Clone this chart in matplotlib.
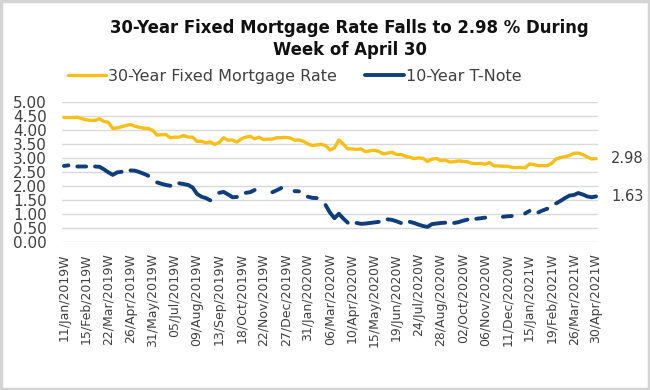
'''
    30-Year fixed mortgage rate vs 10-Year T-Note, weekly (Jan 2019 - Apr 2021)
'''

import numpy as np
import matplotlib.pyplot as plt
from matplotlib.patches import Rectangle


'''
    Data (read off the reference chart)
'''

# Tick labels, one every 5 weeks
tick_labels = [
    "11/Jan/2019W", "15/Feb/2019W", "22/Mar/2019W", "26/Apr/2019W", "31/May/2019W",
    "05/Jul/2019W", "09/Aug/2019W", "13/Sep/2019W", "18/Oct/2019W", "22/Nov/2019W",
    "27/Dec/2019W", "31/Jan/2020W", "06/Mar/2020W", "10/Apr/2020W", "15/May/2020W",
    "19/Jun/2020W", "24/Jul/2020W", "28/Aug/2020W", "02/Oct/2020W", "06/Nov/2020W",
    "11/Dec/2020W", "15/Jan/2021W", "19/Feb/2021W", "26/Mar/2021W", "30/Apr/2021W",
]
tick_step = 5

# 30-Year fixed mortgage rate, weekly
mortgage_rate = [
    4.45, 4.45, 4.45, 4.46, 4.41, 4.37, 4.35, 4.35, 4.41, 4.31,
    4.28, 4.06, 4.08, 4.12, 4.17, 4.20, 4.14, 4.10, 4.07, 4.06,
    3.99, 3.82, 3.84, 3.84, 3.73, 3.75, 3.75, 3.81, 3.75, 3.75,
    3.60, 3.60, 3.55, 3.58, 3.49, 3.56, 3.73, 3.64, 3.65, 3.57,
    3.69, 3.75, 3.78, 3.69, 3.75, 3.66, 3.68, 3.68, 3.73, 3.73,
    3.74, 3.72, 3.64, 3.65, 3.60, 3.51, 3.45, 3.47, 3.49, 3.45,
    3.29, 3.36, 3.65, 3.50, 3.33, 3.33, 3.31, 3.33, 3.23, 3.26,
    3.28, 3.24, 3.15, 3.18, 3.21, 3.13, 3.13, 3.07, 3.03, 2.98,
    3.01, 2.99, 2.88, 2.96, 2.99, 2.91, 2.93, 2.86, 2.87, 2.90,
    2.88, 2.87, 2.81, 2.80, 2.81, 2.78, 2.84, 2.72, 2.72, 2.71,
    2.71, 2.67, 2.66, 2.67, 2.65, 2.79, 2.77, 2.73, 2.73, 2.73,
    2.81, 2.97, 3.02, 3.05, 3.09, 3.17, 3.18, 3.13, 3.04, 2.97,
    2.98,
]

# 10-Year T-Note, weekly (nan = missing week, shows as a gap)
nan = np.nan
tnote_rate = [
    2.72, 2.74, nan,  2.70, 2.70, 2.70, nan,  2.70, 2.69, 2.60,
    2.49, 2.40, 2.49, 2.51, nan,  2.56, 2.55, 2.50, 2.44, 2.37,
    nan,  2.13, 2.08, 2.04, 2.01, nan,  2.10, 2.07, 2.04, 1.95,
    1.72, 1.62, 1.57, 1.49, nan,  1.76, 1.79, 1.70, 1.60, 1.61,
    nan,  1.76, 1.78, 1.86, nan,  nan,  nan,  1.78, 1.85, 1.93,
    nan,  nan,  1.82, 1.81, nan,  1.62, 1.58, 1.57, nan,  1.32,
    1.05, 0.85, 1.01, 0.84, 0.69, nan,  0.68, 0.65, 0.66, 0.68,
    0.70, 0.72, nan,  0.81, 0.79, 0.74, 0.68, nan,  0.72, 0.68,
    0.62, 0.57, 0.54, 0.64, 0.66, 0.68, 0.69, nan,  0.68, 0.71,
    0.76, 0.80, nan,  0.83, 0.85, 0.87, nan,  nan,  nan,  0.90,
    0.92, 0.93, nan,  nan,  1.02, 1.11, nan,  1.06, 1.13, 1.19,
    nan,  1.38, 1.47, 1.57, 1.66, 1.68, 1.75, 1.70, 1.63, 1.60,
    1.63,
]

mortgage_name = "30-Year Fixed Mortgage Rate"
tnote_name = "10-Year T-Note"
title_text = "30-Year Fixed Mortgage Rate Falls to 2.98 % During\nWeek of April 30"


'''
    Plot
'''

yellow = '#F9BF17'
navy = '#0E3F7C'
grey_txt = '#404040'

weeks = np.arange(len(mortgage_rate))

fig = plt.figure(figsize=(6.5, 3.9), dpi=100)
ax = fig.add_axes([0.0954, 0.3795, 0.8246, 0.3585])

ax.plot(weeks, mortgage_rate, color=yellow, lw=2.4, solid_capstyle='round',
        solid_joinstyle='round', label=mortgage_name)
ax.plot(weeks, tnote_rate, color=navy, lw=2.8, solid_capstyle='round',
        solid_joinstyle='round', label=tnote_name)

# Axes limits / grid
ax.set_xlim(-0.45, len(weeks) - 1 + 0.45)
ax.set_ylim(0, 5)
ax.set_yticks(np.arange(0, 5.01, 0.5))
ax.set_yticklabels([f"{v:.2f}" for v in np.arange(0, 5.01, 0.5)])
ax.grid(axis='y', color='#d9d9d9', lw=1.0)
ax.set_axisbelow(True)
for s in ax.spines.values():
    s.set_visible(False)

ax.set_xticks(weeks[::tick_step])
ax.set_xticklabels(tick_labels, rotation=90, va='top', ha='center')
ax.tick_params(axis='both', length=0, labelcolor=grey_txt)
ax.tick_params(axis='x', pad=8, labelsize=9)
ax.tick_params(axis='y', pad=11, labelsize=11)

# Last value labels
for series in (mortgage_rate, tnote_rate):
    ax.annotate(f"{series[-1]:.2f}", xy=(weeks[-1], series[-1]),
                xytext=(11, 0), textcoords='offset points',
                va='center', ha='left', fontsize=10.5, color=grey_txt,
                annotation_clip=False)

# Title and legend
fig.text(0.538, 0.9, title_text, ha='center', va='center', fontsize=11.9,
         fontweight='bold', color='#111111', linespacing=1.3)
fig.legend(loc='center', bbox_to_anchor=(0.453, 0.805), ncol=2, frameon=False,
           fontsize=11.5, handlelength=2.4, handletextpad=0.12, columnspacing=1.8,
           labelcolor=grey_txt)

# Light grey frame around the picture
fig.patches.append(Rectangle((0.002, 0.003), 0.996, 0.994, transform=fig.transFigure,
                             fill=False, edgecolor='#d4d4d4', lw=2.5))

plt.savefig('out.png', dpi=100)
